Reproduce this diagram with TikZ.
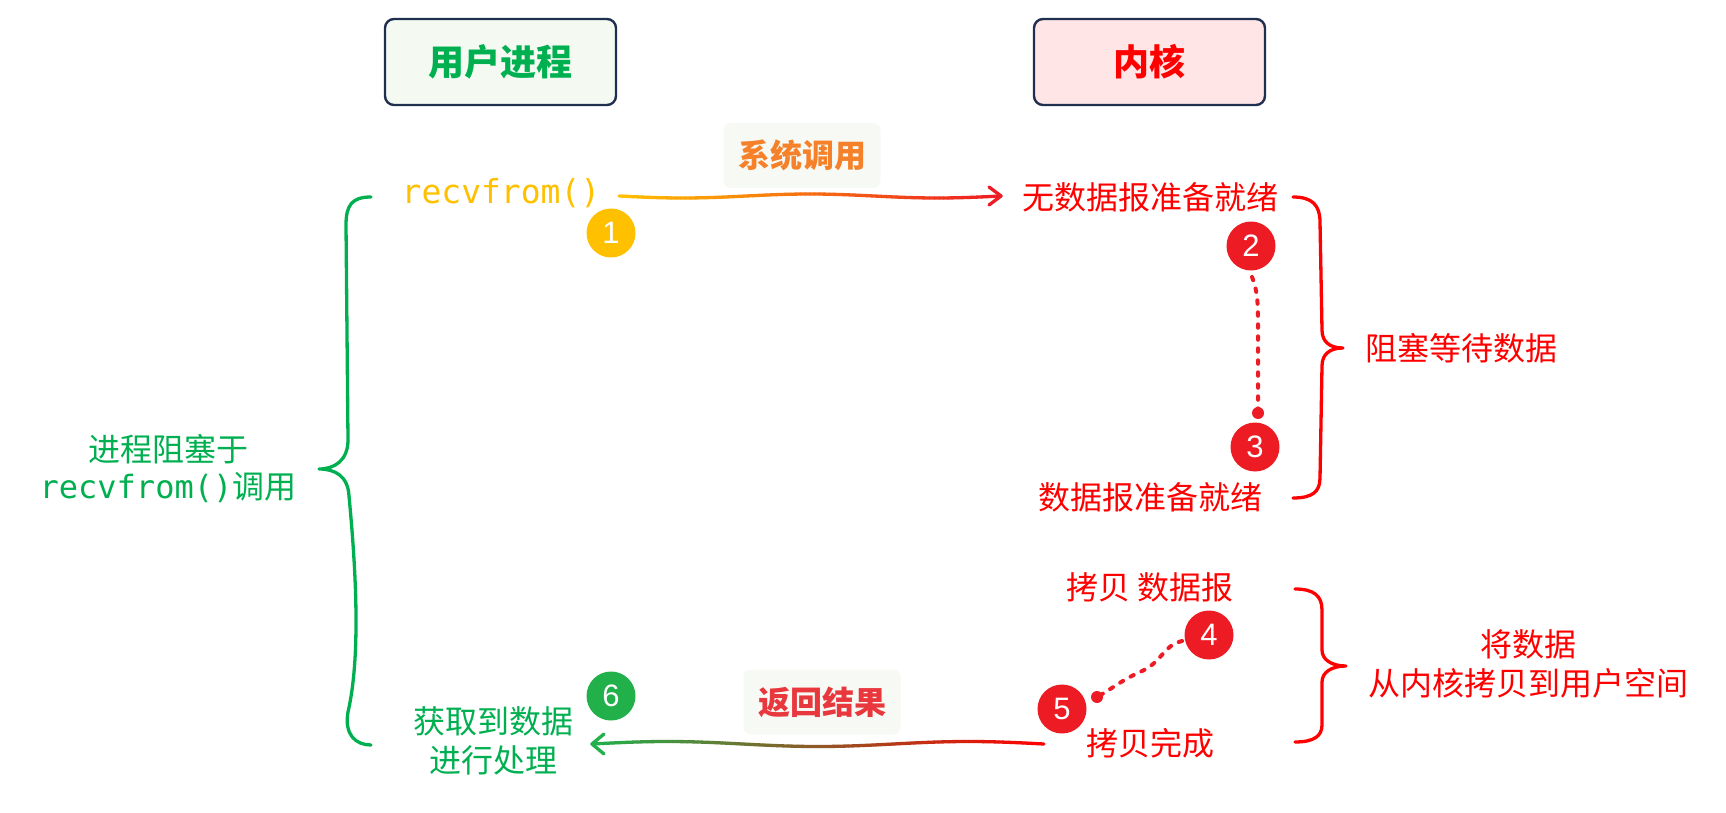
\documentclass[tikz,border=0pt]{standalone}
\usepackage{fontspec}
\setmainfont{Noto Sans CJK SC}
\newfontfamily\monof{DejaVu Sans Mono}
\newfontfamily\numf{Liberation Sans}
\usetikzlibrary{calc}
\definecolor{cgreen}{HTML}{00B050}
\definecolor{cred}{HTML}{FF0000}
\definecolor{cyel}{HTML}{FFC000}
\definecolor{bred}{HTML}{ED1C24}
\definecolor{bgreen}{HTML}{22B04B}
\definecolor{navy}{HTML}{1F2F4F}
\definecolor{fgreen}{HTML}{F4FAF2}
\definecolor{fred}{HTML}{FFE5E6}
\definecolor{lblbg}{HTML}{F7F9F4}
\definecolor{corange}{HTML}{F5822A}
\definecolor{cret}{HTML}{E8383D}
\tikzset{
  hdr/.style={draw=navy, line width=2.4pt, rounded corners=9pt, minimum width=231pt, minimum height=86pt, font=\fontsize{36}{40}\selectfont\bfseries},
  num/.style={circle, minimum size=49pt, inner sep=0pt, text=white, font=\numf\fontsize{31}{31}\selectfont},
  txt/.style={inner sep=0pt, font=\fontsize{32}{38}\selectfont},
  lbl/.style={fill=lblbg, rounded corners=7pt, minimum width=157pt, minimum height=65pt, font=\fontsize{32}{38}\selectfont\bfseries},
  brace/.style={line width=3.3pt, line cap=round, line join=round},
  dotline/.style={line width=4pt, line cap=round, dash pattern=on 3.5pt off 8.5pt, draw=bred},
}
\begin{document}
\begin{tikzpicture}[x=1pt,y=-1pt]
\useasboundingbox (0,0) rectangle (1726,813);
% headers
\node[hdr, fill=fgreen, text=cgreen] (h1) at (500.5,62) {用户进程};
\node[hdr, fill=fred, text=cred] (h2) at (1149.5,62) {内核};
% user side
\node[txt, text=cyel, font=\monof\fontsize{33}{38}\selectfont] (rf) at (501,193) {recvfrom()};
\node[num, fill=cyel] (n1) at (611,233) {1};
\node[lbl, text=corange] (l1) at (802,155.5) {系统调用};
% kernel side
\node[txt, text=cred] (k1) at (1150,197) {无数据报准备就绪};
\node[num, fill=bred] (n2) at (1251,246) {2};
\node[num, fill=bred] (n3) at (1255,447) {3};
\node[txt, text=cred] (k2) at (1150,497) {数据报准备就绪};
\node[txt, text=cred] (w1) at (1461,348) {阻塞等待数据};
\node[txt, text=cred] (k3) at (1150,587) {拷贝 数据报};
\node[num, fill=bred] (n4) at (1209,635) {4};
\node[num, fill=bred] (n5) at (1062,709) {5};
\node[txt, text=cred] (k4) at (1150,743) {拷贝完成};
\node[txt, text=cred] (w2a) at (1528,644) {将数据};
\node[txt, text=cred] (w2b) at (1528,683) {从内核拷贝到用户空间};
% user bottom
\node[num, fill=bgreen] (n6) at (611,696) {6};
\node[txt, text=cgreen] (u1) at (493,721) {获取到数据};
\node[txt, text=cgreen] (u2) at (493,760) {进行处理};
\node[lbl, text=cret] (l2) at (822,702) {返回结果};
% left text
\node[txt, text=cgreen] (b1) at (168,449) {进程阻塞于};
\node[txt, text=cgreen] (b2) at (168,488) {{\monof recvfrom()}调用};
% arrow 1 gradient
\coordinate (s1) at (619,196);
\coordinate (e1) at (1001,196);
\foreach \i in {0,...,79} {
  \pgfmathsetmacro{\ta}{\i/80}
  \pgfmathsetmacro{\tb}{(\i+1)/80}
  \pgfmathsetmacro{\pc}{100-\i*100/79}
  \draw[line width=3.3pt, line cap=round, draw=cyel!\pc!bred]
    ($(s1)!\ta!(e1)+(0,{2*sin(\ta*540)})$) -- ($(s1)!\tb!(e1)+(0,{2*sin(\tb*540)})$);
}
\draw[line width=3.3pt, line cap=round, line join=round, draw=bred] ($(e1)+(-12,-9)$) -- (e1) -- ($(e1)+(-12,9)$);
% arrow 2 gradient
\coordinate (s2) at (1044,744);
\coordinate (e2) at (592,744);
\foreach \i in {0,...,89} {
  \pgfmathsetmacro{\ta}{\i/90}
  \pgfmathsetmacro{\tb}{(\i+1)/90}
  \pgfmathsetmacro{\pc}{100-\i*100/89}
  \draw[line width=3.3pt, line cap=round, draw=cred!\pc!bgreen]
    ($(s2)!\ta!(e2)+(0,{-2.5*sin(\ta*540)})$) -- ($(s2)!\tb!(e2)+(0,{-2.5*sin(\tb*540)})$);
}
\draw[line width=3.3pt, line cap=round, line join=round, draw=bgreen] ($(e2)+(12,-10)$) -- (e2) -- ($(e2)+(12,10)$);
% dotted 2 -> 3
\coordinate (d2) at (1252,277);
\coordinate (d3) at (1258,413);
\draw[dotline] (d2) .. controls (1257,290) and (1258,300) .. (1258,322) -- (d3);
\fill[bred] (d3) circle (6pt);
% dotted 4 -> 5
\coordinate (d4) at (1182,641);
\coordinate (d5) at (1097,697);
\draw[dotline] (d4) .. controls (1162,646) and (1163,662) .. (1140,672) .. controls (1122,680) and (1110,690) .. (d5);
\fill[bred] (d5) circle (6pt);
% left brace
\draw[brace, draw=cgreen] (371,197) .. controls (352,197) and (346,205) .. (346,225)
  -- (348,440) .. controls (348,460) and (335,469) .. (319,469)
  .. controls (335,469) and (348,476) .. (349,496)
  .. controls (357,580) and (360,660) .. (348,712)
  .. controls (344,735) and (356,745) .. (371,745);
% right brace 1
\draw[brace, draw=cred] (1293,197) .. controls (1312,197) and (1320,205) .. (1320,222)
  -- (1322,330) .. controls (1322,342) and (1330,348) .. (1343,348)
  .. controls (1330,348) and (1322,354) .. (1322,366)
  -- (1320,478) .. controls (1320,492) and (1312,498) .. (1293,498);
% right brace 2
\draw[brace, draw=cred] (1295,589) .. controls (1314,589) and (1322,596) .. (1322,610)
  -- (1322,650) .. controls (1322,660) and (1332,666) .. (1346,666)
  .. controls (1332,666) and (1322,672) .. (1322,682)
  -- (1322,725) .. controls (1322,736) and (1314,742) .. (1295,742);
\end{tikzpicture}
\end{document}
